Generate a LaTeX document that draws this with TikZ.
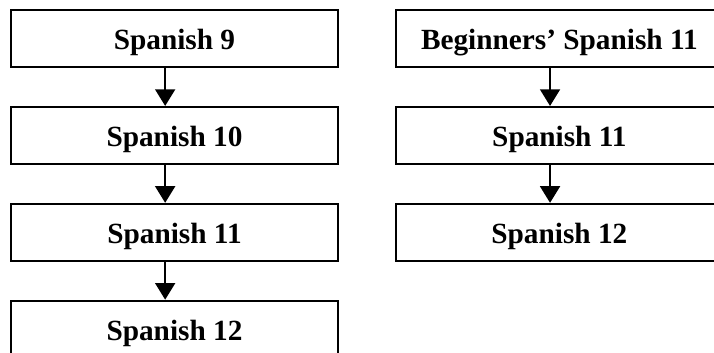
\documentclass[tikz,border=0pt]{standalone}
\usepackage{fontspec}
\setmainfont{Liberation Serif}
\usetikzlibrary{arrows.meta, positioning}

\begin{document}
\begin{tikzpicture}[
    node distance=1.14cm,
    course/.style={rectangle, draw=black, line width=1.6pt,
                 minimum width=9.81cm, minimum height=1.71cm,
                 font=\fontsize{25}{30}\selectfont\bfseries, inner sep=0pt,
                 text height=19.6pt, text depth=0pt},
    next/.style={-{Triangle[length=0.5cm, width=0.6cm]}, line width=1.6pt},
  ]
    \clip (0,0) rectangle (21.42,-10.56);

    % four-year track
    \node[course] (s9) at (5.235,-1.155) {Spanish 9};
    \node[course, below=of s9] (s10) {Spanish 10};
    \node[course, below=of s10] (s11) {Spanish 11};
    \node[course, below=of s11] (s12) {Spanish 12};

    % beginners track
    \node[course, right=1.68cm of s9] (b11) {Beginners’ Spanish 11};
    \node[course, below=of b11] (b11s) {Spanish 11};
    \node[course, below=of b11s] (b12) {Spanish 12};

    \draw[next] ([xshift=-0.28cm]s9.south) -- ([xshift=-0.28cm]s10.north);
    \draw[next] ([xshift=-0.28cm]s10.south) -- ([xshift=-0.28cm]s11.north);
    \draw[next] ([xshift=-0.28cm]s11.south) -- ([xshift=-0.28cm]s12.north);
    \draw[next] ([xshift=-0.28cm]b11.south) -- ([xshift=-0.28cm]b11s.north);
    \draw[next] ([xshift=-0.28cm]b11s.south) -- ([xshift=-0.28cm]b12.north);
  \end{tikzpicture}
\end{document}
